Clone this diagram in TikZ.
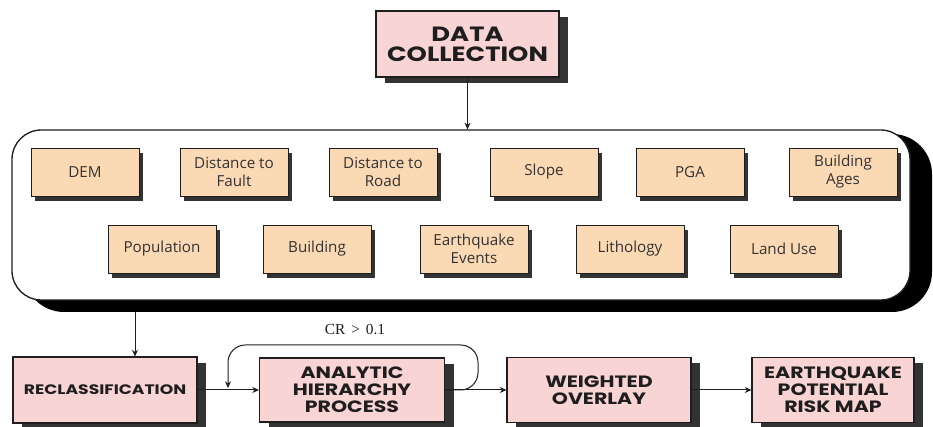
\documentclass[tikz,border=0pt]{standalone}
\usepackage{fontspec}
\setmainfont{Open Sans}
\newfontfamily\headfont{Poppins}[FakeStretch=1.25]
\newfontfamily\crfont{Liberation Serif}
\usetikzlibrary{arrows.meta,shadows,backgrounds}

\definecolor{rosefill}{HTML}{F9D4D4}
\definecolor{sandfill}{HTML}{FBD9B4}
\definecolor{shade}{HTML}{333333}
\definecolor{ink}{HTML}{1E1E1E}

\tikzset{
  pinkbox/.style={draw=ink, line width=0.8pt, fill=rosefill, align=center,
    inner sep=0pt, text=ink,
    font=\headfont\bfseries\fontsize{12.3}{12.6}\selectfont,
    general shadow={shadow xshift=6.75pt, shadow yshift=-4.5pt, fill=shade}},
  layerbox/.style={draw=ink, line width=0.7pt, fill=sandfill, align=center,
    inner sep=0pt, minimum width=81pt, minimum height=36pt, text=shade,
    font=\fontsize{11.4}{13.5}\selectfont,
    general shadow={shadow xshift=3pt, shadow yshift=-3.75pt, fill=shade}},
  flow/.style={-{Stealth[length=5pt,width=4.5pt]}, line width=0.75pt, draw=ink},
}

\begin{document}
\begin{tikzpicture}[x=0.75pt, y=-0.75pt]
\useasboundingbox (0,0) rectangle (933,427);

% input container with its heavy offset shadow
\node[draw=ink, line width=1pt, fill=white, rounded corners=22pt,
      minimum width=673.5pt, minimum height=127.5pt, inner sep=0pt] (box) at (461,215) {};
\begin{scope}[on background layer]
  \fill[black, rounded corners=30pt] (24,134) rectangle (932,312);
\end{scope}

% title box
\node[pinkbox, minimum width=137.25pt, minimum height=49.5pt,
      font=\headfont\bfseries\fontsize{15.5}{15}\selectfont] (dc) at (467.5,44) {DATA\\COLLECTION};

% input layers, first row
\node[layerbox] (dem)   at (85,172)  {DEM};
\node[layerbox] (fault) at (234,172) {Distance to\\Fault};
\node[layerbox] (road)  at (383,172) {Distance to\\Road};
\node[layerbox] (slope) at (544,172) {Slope};
\node[layerbox] (pga)   at (690,172) {PGA};
\node[layerbox] (ages)  at (843,172) {Building\\Ages};
% input layers, second row
\node[layerbox] (pop)   at (162,249) {Population};
\node[layerbox] (bldg)  at (317,249) {Building};
\node[layerbox] (quake) at (474,249) {Earthquake\\Events};
\node[layerbox] (litho) at (630,249) {Lithology};
\node[layerbox] (land)  at (784,249) {Land Use};

% processing chain
\node[pinkbox, minimum width=138pt, minimum height=49.5pt,
      font=\headfont\bfseries\fontsize{10.3}{11}\selectfont] (recl) at (105,390) {RECLASSIFICATION};
\node[pinkbox, minimum width=138.75pt, minimum height=48pt] (ahp) at (352,390) {ANALYTIC\\HIERARCHY\\PROCESS};
\node[pinkbox, minimum width=138pt, minimum height=48.75pt] (wo) at (599,390) {WEIGHTED\\OVERLAY};
\node[pinkbox, minimum width=121.5pt, minimum height=48.75pt] (risk) at (833,390) {EARTHQUAKE\\POTENTIAL\\RISK MAP};

% connectors
\coordinate (tap) at (135,312);
\coordinate (back) at (228,388);
\draw[flow] (dc.south) -- (dc.south |- box.north);
\draw[flow] (tap) -- (tap |- recl.north);
\draw[flow] (recl.east) -- (ahp.west);
\draw[flow] (ahp.east) -- (wo.west);
\draw[flow] (wo.east) -- (risk.west);
\draw[flow, rounded corners=13pt] (ahp.east) -| (478,345) -| (back);
\node[font=\crfont\fontsize{11.5}{11.5}\selectfont, text=ink] (cr) at (355,330)
  {CR\hspace{4.5pt}>\hspace{4.5pt}0.1};
\end{tikzpicture}
\end{document}
